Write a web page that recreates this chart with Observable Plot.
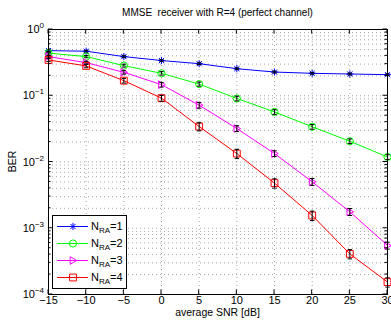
<!DOCTYPE html>
<html><head><meta charset="utf-8">
<script src="https://cdn.jsdelivr.net/npm/d3@7"></script>
<script src="https://cdn.jsdelivr.net/npm/@observablehq/plot@0.6"></script>
<style>body{margin:0;background:#fff}</style>
</head><body><div id="chart"></div>
<script>
const title = "MMSE\u00a0 receiver with R=4 (perfect channel)";
const xLabel = "average SNR [dB]";
const yLabel = "BER";
const snr = [-15, -10, -5, 0, 5, 10, 15, 20, 25, 30];
const seriesNames = ["1", "2", "3", "4"];
const seriesColors = ["#0000ff", "#00ff00", "#ff00ff", "#ff0000"];
const ber1 = [0.48, 0.47, 0.39, 0.34, 0.305, 0.256, 0.228, 0.218, 0.213, 0.208];
const ber2 = [0.44, 0.39, 0.285, 0.218, 0.150, 0.091, 0.057, 0.034, 0.0206, 0.0119];
const ber3 = [0.39, 0.316, 0.226, 0.147, 0.072, 0.032, 0.0134, 0.00503, 0.00177, 0.00055];
const ber4 = [0.347, 0.282, 0.169, 0.092, 0.0343, 0.0134, 0.0048, 0.00156, 0.00041, 0.000154];
// relative half-widths of the error bars
const err1 = [0.03, 0.03, 0.03, 0.03, 0.03, 0.03, 0.03, 0.03, 0.03, 0.03];
const err2 = [0.03, 0.04, 0.05, 0.06, 0.07, 0.08, 0.08, 0.08, 0.08, 0.08];
const err3 = [0.04, 0.05, 0.06, 0.08, 0.10, 0.10, 0.10, 0.12, 0.12, 0.12];
const err4 = [0.05, 0.06, 0.08, 0.10, 0.14, 0.16, 0.16, 0.16, 0.16, 0.16];
const xTicks = [-15, -10, -5, 0, 5, 10, 15, 20, 25, 30];
const xTickLabels = ["\u221215", "\u221210", "\u22125", "0", "5", "10", "15", "20", "25", "30"];
const yTicks = [1e-4, 1e-3, 1e-2, 1e-1, 1];
const yTickExp = ["\u22124", "\u22123", "\u22122", "\u22121", "0"];
const minorMult = [2, 3, 4, 5, 6, 7, 8, 9];

const yMinor = yTicks.slice(0, -1).flatMap(d => minorMult.map(m => d * m));

// custom symbols
const radius = size => Math.sqrt(size / Math.PI);
const symStar = {draw(c, s) { const r = radius(s), q = r * 0.72;
  c.moveTo(-r, 0); c.lineTo(r, 0); c.moveTo(0, -r); c.lineTo(0, r);
  c.moveTo(-q, -q); c.lineTo(q, q); c.moveTo(-q, q); c.lineTo(q, -q); }};
const symCircle = {draw(c, s) { const r = radius(s); c.moveTo(r, 0); c.arc(0, 0, r, 0, 2 * Math.PI); c.closePath(); }};
const symTri = {draw(c, s) { const r = radius(s) * 1.05; c.moveTo(r, 0); c.lineTo(-r * 0.75, -r); c.lineTo(-r * 0.75, r); c.closePath(); }};
const symSquare = {draw(c, s) { const r = radius(s) * 0.95; c.moveTo(-r, -r); c.lineTo(r, -r); c.lineTo(r, r); c.lineTo(-r, r); c.closePath(); }};
const symCap = {draw(c, s) { c.moveTo(-2.2, 0); c.lineTo(2.2, 0); }};
const symbols = [symStar, symCircle, symTri, symSquare];

const bers = [ber1, ber2, ber3, ber4];
const errs = [err1, err2, err3, err4];
const rows = seriesNames.flatMap((name, i) => snr.map((x, j) => ({
  series: i, snr: x, ber: bers[i][j],
  lo: bers[i][j] * (1 - errs[i][j]), hi: bers[i][j] * (1 + errs[i][j])
})));

const grid = {stroke: "#000", strokeOpacity: 0.45, strokeWidth: 0.8, strokeDasharray: "1,3"};

const marks = [
  Plot.ruleY(yMinor, {y: d => d, ...grid}),
  Plot.ruleY(yTicks, {y: d => d, ...grid}),
  Plot.ruleX(xTicks, {x: d => d, ...grid}),
];
seriesNames.forEach((n, i) => {
  const d = rows.filter(r => r.series === i);
  marks.push(Plot.line(d, {x: "snr", y: "ber", stroke: seriesColors[i], strokeWidth: 1}));
  marks.push(Plot.dot(d, {x: "snr", y: "ber", symbol: () => symbols[i], stroke: seriesColors[i], fill: "none", r: 3.6, strokeWidth: 1}));
  marks.push(Plot.ruleX(d, {x: "snr", y1: "lo", y2: "hi", stroke: "#000", strokeWidth: 1}));
  marks.push(Plot.dot(d, {x: "snr", y: "lo", symbol: () => symCap, stroke: "#000", strokeWidth: 1}));
  marks.push(Plot.dot(d, {x: "snr", y: "hi", symbol: () => symCap, stroke: "#000", strokeWidth: 1}));
});
marks.push(Plot.frame({stroke: "#000", strokeWidth: 1}));
marks.push(Plot.axisX(xTicks, {tickSize: 0, tickPadding: 2, label: null, tickFormat: d => xTickLabels[xTicks.indexOf(d)], fontSize: 11, fill: "#000"}));

const chart = Plot.plot({
  width: 391, height: 322,
  marginTop: 29, marginBottom: 28, marginLeft: 48, marginRight: 4,
  x: {domain: [-15, 30], label: null},
  y: {type: "log", domain: [1e-4, 1], axis: null},
  style: {fontFamily: "'Liberation Sans', Arial, Helvetica, sans-serif", fontSize: "11px", background: "#fff", color: "#000"},
  marks
});
document.getElementById("chart").appendChild(chart);

const sx = chart.scale("x"), sy = chart.scale("y");
const svg = d3.select(chart);
const x0 = sx.range[0], x1 = sx.range[1], yb = sy.range[0], yt = sy.range[1];
const g = svg.append("g").attr("stroke", "#000").attr("stroke-width", 1);
// x ticks inward, bottom and top
xTicks.forEach(v => { const px = sx.apply(v);
  g.append("line").attr("x1", px).attr("x2", px).attr("y1", yb).attr("y2", yb - 4.5);
  g.append("line").attr("x1", px).attr("x2", px).attr("y1", yt).attr("y2", yt + 4.5); });
yTicks.forEach(v => { const py = sy.apply(v);
  g.append("line").attr("x1", x0).attr("x2", x0 + 4.5).attr("y1", py).attr("y2", py);
  g.append("line").attr("x1", x1).attr("x2", x1 - 4.5).attr("y1", py).attr("y2", py); });
yMinor.forEach(v => { const py = sy.apply(v);
  g.append("line").attr("x1", x0).attr("x2", x0 + 2.5).attr("y1", py).attr("y2", py);
  g.append("line").attr("x1", x1).attr("x2", x1 - 2.5).attr("y1", py).attr("y2", py); });

const font = "'Liberation Sans', Arial, Helvetica, sans-serif";
// y tick labels with superscripts
yTicks.forEach((v, i) => {
  const t = svg.append("text").attr("x", x0 - 4).attr("y", sy.apply(v) + 4)
    .attr("text-anchor", "end").attr("font-family", font).attr("font-size", 11).attr("fill", "#000");
  t.append("tspan").text("10");
  t.append("tspan").attr("dy", -5).attr("font-size", 8).text(yTickExp[i]);
});
// title and axis labels
svg.append("text").attr("x", (x0 + x1) / 2).attr("y", 16).attr("text-anchor", "middle")
  .attr("font-family", font).attr("font-size", 10).attr("fill", "#000").text(title);
svg.append("text").attr("x", (x0 + x1) / 2).attr("y", 316).attr("text-anchor", "middle")
  .attr("font-family", font).attr("font-size", 10.5).attr("fill", "#000").text(xLabel);
svg.append("text").attr("transform", `translate(16,${(yt + yb) / 2}) rotate(-90)`).attr("text-anchor", "middle")
  .attr("font-family", font).attr("font-size", 10.5).attr("fill", "#000").text(yLabel);

// legend
const lg = svg.append("g");
lg.append("rect").attr("x", 52.5).attr("y", 215.5).attr("width", 74).attr("height", 73)
  .attr("fill", "#fff").attr("stroke", "#000").attr("stroke-width", 1);
seriesNames.forEach((n, i) => {
  const ly = 226.5 + i * 17;
  lg.append("line").attr("x1", 57).attr("x2", 88).attr("y1", ly).attr("y2", ly).attr("stroke", seriesColors[i]);
  lg.append("path").attr("transform", `translate(73,${ly})`)
    .attr("d", d3.symbol().type(symbols[i]).size(Math.PI * 3.6 * 3.6)())
    .attr("fill", "none").attr("stroke", seriesColors[i]);
  const t = lg.append("text").attr("x", 91).attr("y", ly + 3).attr("text-anchor", "start")
    .attr("font-family", font).attr("font-size", 11).attr("fill", "#000");
  t.append("tspan").text("N");
  t.append("tspan").attr("dy", 3.5).attr("font-size", 8).text("RA");
  t.append("tspan").attr("dy", -3.5).text("=" + n);
});
</script>
</body></html>
